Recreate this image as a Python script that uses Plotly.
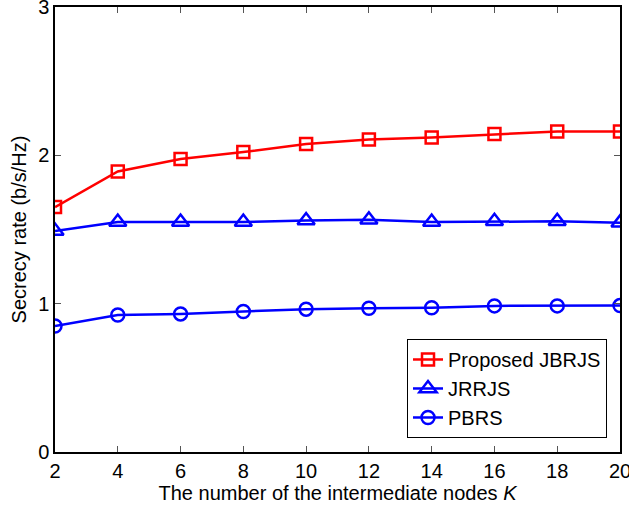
import plotly.graph_objects as go

K = [2, 4, 6, 8, 10, 12, 14, 16, 18, 20]
jbrjs = [1.651, 1.891, 1.975, 2.022, 2.076, 2.107, 2.121, 2.143, 2.161, 2.161]
jrrjs = [1.49, 1.55, 1.55, 1.55, 1.56, 1.565, 1.55, 1.555, 1.555, 1.545]
pbrs = [0.850, 0.924, 0.931, 0.947, 0.963, 0.969, 0.973, 0.985, 0.985, 0.987]

x_ticks = [2, 4, 6, 8, 10, 12, 14, 16, 18, 20]
y_ticks = [0, 1, 2, 3]

fig = go.Figure()
fig.add_trace(go.Scatter(x=K, y=jbrjs, mode="lines+markers", name="Proposed JBRJS",
                         line=dict(color="#ff0000", width=2.5),
                         marker=dict(symbol="square-open", size=12, color="#ff0000",
                                     line=dict(width=2.5, color="#ff0000"))))
fig.add_trace(go.Scatter(x=K, y=jrrjs, mode="lines+markers", name="JRRJS",
                         line=dict(color="#0000ff", width=2.5),
                         marker=dict(symbol="triangle-up-open", size=15, color="#0000ff",
                                     line=dict(width=2.5, color="#0000ff"))))
fig.add_trace(go.Scatter(x=K, y=pbrs, mode="lines+markers", name="PBRS",
                         line=dict(color="#0000ff", width=2.5),
                         marker=dict(symbol="circle-open", size=13, color="#0000ff",
                                     line=dict(width=2.5, color="#0000ff"))))

font = dict(family="Liberation Sans, Arial, sans-serif", size=20, color="#000000")

fig.update_layout(
    width=629, height=507,
    margin=dict(l=55, r=9, t=7, b=55, autoexpand=False),
    paper_bgcolor="white", plot_bgcolor="white",
    font=font,
    showlegend=True,
    legend=dict(x=0.977, y=0.0315, xanchor="right", yanchor="bottom",
                bgcolor="white", bordercolor="#000000", borderwidth=1,
                font=font, tracegroupgap=0),
)
fig.update_xaxes(range=[2, 20], tickvals=x_ticks, ticktext=[str(v) for v in x_ticks],
                 ticks="inside", ticklen=6, tickcolor="#555555", tickwidth=1,
                 showline=True, linecolor="#000000", linewidth=1.5, mirror="ticks",
                 showgrid=False, zeroline=False, automargin=False,
                 ticklabeloverflow="allow",
                 title=dict(text="The number of the intermediate nodes <i>K</i>", standoff=2,
                            font=font),
                 tickfont=font)
fig.update_yaxes(range=[0, 3], tickvals=y_ticks, ticktext=[str(v) for v in y_ticks],
                 ticks="inside", ticklen=6, tickcolor="#555555", tickwidth=1,
                 showline=True, linecolor="#000000", linewidth=1.5, mirror="ticks",
                 showgrid=False, zeroline=False, automargin=False,
                 ticklabeloverflow="allow",
                 title=dict(text="Secrecy rate (b/s/Hz)", standoff=6, font=font),
                 tickfont=font)

fig.write_html("out.html", config={"displayModeBar": False},
               post_script="document.body.style.margin='0';")
